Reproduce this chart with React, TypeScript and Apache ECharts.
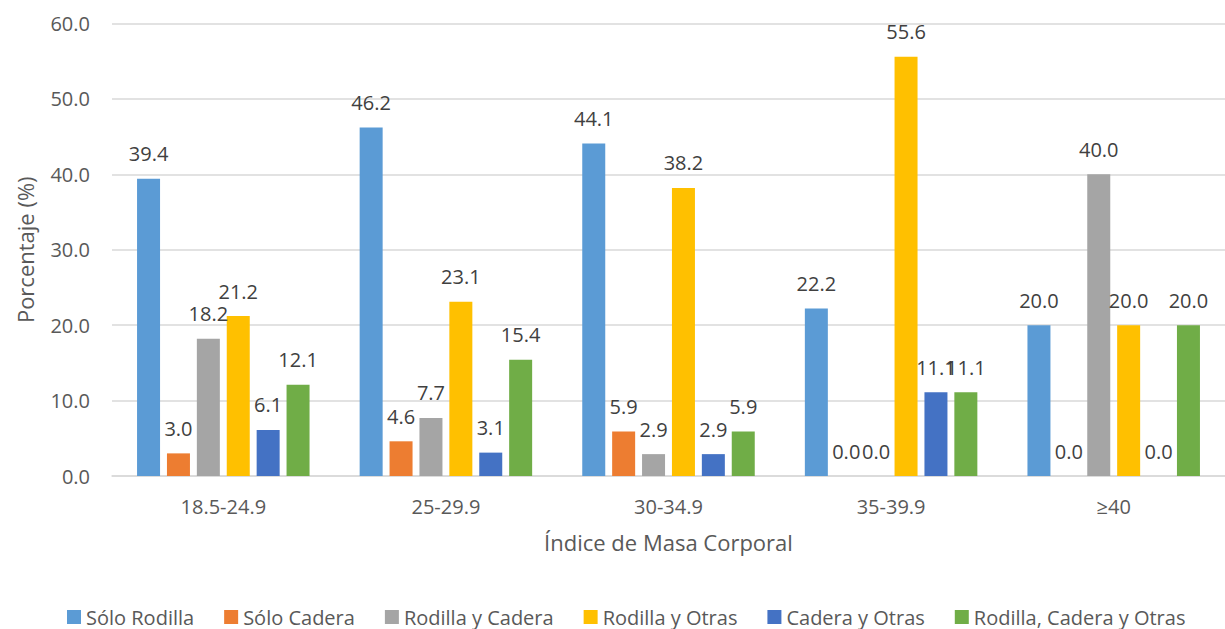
import React, { useEffect, useRef } from "react";
import * as echarts from "echarts";

const categories = ["18.5-24.9", "25-29.9", "30-34.9", "35-39.9", "≥40"];
const seriesNames = [
  "Sólo Rodilla",
  "Sólo Cadera",
  "Rodilla y Cadera",
  "Rodilla y Otras",
  "Cadera y Otras",
  "Rodilla, Cadera y Otras",
];
const soloRodilla = [39.4, 46.2, 44.1, 22.2, 20.0];
const soloCadera = [3.0, 4.6, 5.9, 0.0, 0.0];
const rodillaCadera = [18.2, 7.7, 2.9, 0.0, 40.0];
const rodillaOtras = [21.2, 23.1, 38.2, 55.6, 20.0];
const caderaOtras = [6.1, 3.1, 2.9, 11.1, 0.0];
const rodillaCaderaOtras = [12.1, 15.4, 5.9, 11.1, 20.0];
const colors = ["#5B9BD5", "#ED7D31", "#A5A5A5", "#FFC000", "#4472C4", "#70AD47"];
const yTicks = [0, 10, 20, 30, 40, 50, 60];

const FONT = "Open Sans";

export default function App() {
  const ref = useRef<HTMLDivElement>(null);
  useEffect(() => {
    if (!ref.current) return;
    const chart = echarts.init(ref.current, null, { renderer: "svg" });
    const data = [soloRodilla, soloCadera, rodillaCadera, rodillaOtras, caderaOtras, rodillaCaderaOtras];
    chart.setOption({
      animation: false,
      color: colors,
      textStyle: { fontFamily: FONT },
      grid: { left: 112, top: 23.5, width: 1125, height: 452.5, containLabel: false },
      legend: {
        left: 62,
        top: 602,
        icon: "rect",
        itemWidth: 14,
        itemHeight: 14,
        itemGap: 30,
        textStyle: { fontFamily: FONT, fontSize: 20, color: "#595959" },
        data: seriesNames,
      },
      xAxis: {
        type: "category",
        data: categories,
        axisLine: { lineStyle: { color: "#D9D9D9", width: 1.5 } },
        axisTick: { show: false },
        axisLabel: { fontFamily: FONT, fontSize: 20, color: "#595959", margin: 20 },
        name: "Índice de Masa Corporal",
        nameLocation: "middle",
        nameGap: 55,
        nameTextStyle: { fontFamily: FONT, fontSize: 22, color: "#595959" },
      },
      yAxis: {
        type: "value",
        min: yTicks[0],
        max: yTicks[yTicks.length - 1],
        interval: 10,
        axisLine: { show: false },
        axisTick: { show: false },
        splitLine: { lineStyle: { color: "#D9D9D9", width: 1.5 } },
        axisLabel: {
          fontFamily: FONT,
          fontSize: 20,
          color: "#595959",
          margin: 22,
          formatter: (v: number) => v.toFixed(1),
        },
        name: "Porcentaje (%)",
        nameLocation: "middle",
        nameGap: 76,
        nameTextStyle: { fontFamily: FONT, fontSize: 22, color: "#595959" },
      },
      series: seriesNames.map((name, i) => ({
        name,
        type: "bar",
        data: data[i],
        barWidth: 23,
        barGap: "30%",
        itemStyle: { color: colors[i] },
        label: {
          show: true,
          position: "top",
          distance: 15,
          fontFamily: FONT,
          fontSize: 20,
          color: "#404040",
          formatter: (p: any) => Number(p.value).toFixed(1),
        },
      })),
    });
    return () => chart.dispose();
  }, []);
  return (
    <div
      ref={ref}
      style={{ position: "fixed", left: 0, top: 0, width: 1225, height: 629, background: "#fff" }}
    />
  );
}
